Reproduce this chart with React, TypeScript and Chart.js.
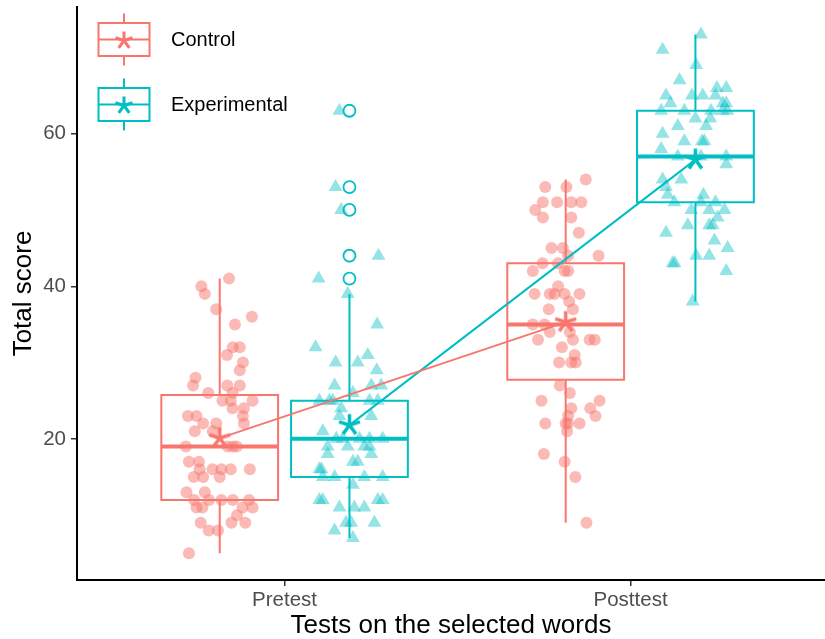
import React, { useEffect, useRef } from 'react';
import { Chart, registerables } from 'chart.js';

Chart.register(...registerables);

// ---------- data ----------
const categories = ['Pretest', 'Posttest'];
const groups = ['Control', 'Experimental'];
const yTickValues = [20, 40, 60];
const xTitle = 'Tests on the selected words';
const yTitle = 'Total score';

// Control, pretest
const ctrlPreScores = [41, 40, 39, 37, 36, 35, 32, 32, 31, 30, 29, 28, 27, 27, 27, 26, 26, 25, 25, 25, 24, 24, 23, 23, 23, 22, 22, 22, 21, 21, 19, 19, 19, 19, 17, 17, 16, 16, 16, 16, 16, 15, 15, 15, 13, 13, 12, 12, 12, 12, 12, 11, 11, 11, 11, 10, 9, 9, 9, 8, 8, 5];
const ctrlPreJitter = [0.027, -0.053, -0.043, -0.010, 0.093, 0.044, 0.038, 0.058, 0.021, 0.067, 0.058, -0.070, -0.077, 0.022, 0.058, -0.033, 0.037, 0.008, 0.032, 0.095, 0.037, 0.070, -0.092, -0.067, 0.067, 0.070, -0.048, -0.010, -0.072, -0.020, -0.098, 0.023, 0.038, 0.049, -0.089, -0.060, -0.058, -0.021, 0.005, 0.032, 0.087, -0.075, -0.048, 0.000, -0.096, -0.043, -0.074, -0.031, 0.005, 0.038, 0.085, -0.067, -0.050, 0.066, 0.095, 0.050, -0.055, 0.034, 0.074, -0.032, -0.005, -0.089];

// Control, posttest
const ctrlPostScores = [54, 53, 53, 51, 51, 51, 51, 50, 49, 49, 47, 45, 45, 44, 44, 43, 43, 42, 42, 42, 40, 39, 39, 39, 39, 39, 38, 37, 37, 35, 35, 34, 34, 33, 33, 33, 33, 32, 31, 30, 30, 30, 27, 26, 25, 25, 24, 24, 23, 23, 22, 22, 22, 22, 21, 18, 17, 15, 9];
const ctrlPostJitter = [0.058, -0.059, 0.002, -0.066, -0.025, 0.016, 0.045, -0.088, -0.066, 0.016, 0.038, -0.041, -0.008, 0.007, 0.095, -0.067, -0.022, -0.095, -0.003, 0.007, -0.022, -0.090, -0.046, -0.032, -0.003, 0.040, 0.010, -0.049, 0.021, -0.095, -0.061, -0.046, 0.012, -0.080, 0.021, 0.069, 0.084, -0.011, 0.026, -0.019, 0.016, 0.029, -0.017, 0.012, -0.070, 0.098, 0.016, 0.071, 0.007, 0.086, -0.059, 0.000, 0.007, 0.040, 0.004, -0.063, -0.003, 0.028, 0.060];

// Experimental, pretest
const expPreScores = [63, 53, 50, 44, 41, 39, 35, 32, 31, 30, 30, 29, 27, 27, 27, 26, 25, 25, 25, 25, 25, 24, 23, 23, 21, 20, 20, 20, 20, 20, 19, 19, 19, 19, 18, 18, 17, 17, 16, 16, 15, 15, 15, 15, 14, 12, 12, 12, 12, 11, 11, 11, 9, 9, 9, 8, 7];
const expPreJitter = [-0.029, -0.040, -0.024, 0.084, -0.089, -0.005, 0.080, -0.098, 0.053, -0.040, 0.024, 0.079, -0.043, 0.063, 0.092, 0.010, -0.087, -0.058, -0.048, 0.058, 0.082, -0.024, -0.029, 0.063, -0.077, -0.038, -0.019, 0.029, 0.058, 0.096, -0.063, -0.005, 0.043, 0.058, -0.063, 0.063, 0.010, 0.024, -0.087, -0.081, -0.077, -0.043, 0.043, 0.096, 0.010, -0.087, -0.077, 0.082, 0.096, -0.029, 0.014, 0.043, -0.010, 0.005, 0.072, -0.043, 0.010];

// Experimental, posttest
const expPostScores = [73, 71, 69, 67, 66, 66, 65, 65, 65, 65, 64, 64, 64, 63, 63, 63, 63, 63, 62, 62, 61, 61, 60, 59, 59, 59, 58, 57, 57, 57, 56, 54, 54, 53, 52, 52, 51, 51, 51, 50, 50, 50, 49, 48, 48, 48, 47, 46, 45, 44, 44, 43, 43, 42, 38];
const expPostJitter = [0.016, -0.095, 0.002, -0.046, 0.062, 0.089, -0.085, -0.010, 0.021, 0.058, -0.072, 0.079, 0.089, -0.099, -0.032, 0.045, 0.079, 0.092, 0.000, 0.043, -0.051, 0.031, -0.095, -0.032, 0.019, 0.026, -0.099, -0.051, 0.016, 0.089, 0.089, -0.095, -0.041, -0.085, -0.080, 0.023, -0.061, 0.016, 0.058, -0.012, 0.040, 0.084, 0.064, -0.022, 0.040, 0.050, -0.085, 0.055, 0.093, 0.002, 0.040, -0.066, -0.060, 0.089, -0.008];

// Box statistics per test (Pretest, Posttest)
const controlLow = [5, 9];
const controlQ1 = [12, 27.75];
const controlMedian = [19, 35];
const controlQ3 = [25.75, 43];
const controlHigh = [41, 54];
const controlMean = [20.1, 35.3];
const controlOutliers: number[][] = [[], []];

const expLow = [7, 38];
const expQ1 = [15, 51];
const expMedian = [20, 57];
const expQ3 = [25, 63];
const expHigh = [39, 73];
const expMean = [21.8, 56.6];
const expOutliers: number[][] = [[63, 53, 50, 44, 41], []];

// ---------- styling ----------
const FONT = '"Liberation Sans", Arial, Helvetica, sans-serif';
const CONTROL_COLOR = '#F8766D';
const EXP_COLOR = '#00BFC4';
const DODGE = 0.1875;
const HALF_BOX = 0.16875;

function makeAsterisk(color: string, spoke: number, lw: number): HTMLCanvasElement {
  const size = Math.ceil(spoke * 2 + lw * 2 + 2);
  const c = document.createElement('canvas');
  c.width = size;
  c.height = size;
  const ctx = c.getContext('2d')!;
  drawAsterisk(ctx, size / 2, size / 2, spoke, color, lw);
  return c;
}

function drawAsterisk(ctx: CanvasRenderingContext2D, x: number, y: number, spoke: number, color: string, lw: number) {
  ctx.save();
  ctx.strokeStyle = color;
  ctx.lineWidth = lw;
  ctx.lineCap = 'butt';
  ctx.beginPath();
  for (let k = 0; k < 5; k++) {
    const a = (k * 2 * Math.PI) / 5;
    ctx.moveTo(x, y);
    ctx.lineTo(x + Math.sin(a) * spoke, y - Math.cos(a) * spoke);
  }
  ctx.stroke();
  ctx.restore();
}

const legendPlugin = {
  id: 'boxLegend',
  afterDraw(chart: any) {
    const ctx: CanvasRenderingContext2D = chart.ctx;
    const entries = [
      { label: groups[0], color: CONTROL_COLOR, cy: 39.5 },
      { label: groups[1], color: EXP_COLOR, cy: 104.5 },
    ];
    const cx = 124;
    entries.forEach((e) => {
      ctx.save();
      ctx.strokeStyle = e.color;
      ctx.lineWidth = 2;
      ctx.beginPath();
      ctx.moveTo(cx, e.cy - 26);
      ctx.lineTo(cx, e.cy - 16.5);
      ctx.moveTo(cx, e.cy + 16.5);
      ctx.lineTo(cx, e.cy + 26);
      ctx.stroke();
      ctx.strokeRect(cx - 25.5, e.cy - 16.5, 51, 33);
      ctx.beginPath();
      ctx.moveTo(cx - 25.5, e.cy);
      ctx.lineTo(cx + 25.5, e.cy);
      ctx.stroke();
      drawAsterisk(ctx, cx, e.cy + 1, 9, e.color, 3);
      ctx.fillStyle = '#000';
      ctx.font = `20px ${FONT}`;
      ctx.textAlign = 'left';
      ctx.textBaseline = 'middle';
      ctx.fillText(e.label, 171, e.cy + 1);
      ctx.restore();
    });
  },
};

function hexA(hex: string, a: number) {
  const r = parseInt(hex.slice(1, 3), 16);
  const g = parseInt(hex.slice(3, 5), 16);
  const b = parseInt(hex.slice(5, 7), 16);
  return `rgba(${r},${g},${b},${a})`;
}

export default function App() {
  const canvasRef = useRef<HTMLCanvasElement | null>(null);

  useEffect(() => {
    if (!canvasRef.current) return;

    const specs = [
      {
        color: CONTROL_COLOR, offset: -DODGE, low: controlLow, q1: controlQ1, med: controlMedian, q3: controlQ3, high: controlHigh,
        mean: controlMean, outliers: controlOutliers, pointStyle: 'circle', pointRadius: 6, alpha: 0.5,
        points: [[ctrlPreScores, ctrlPreJitter], [ctrlPostScores, ctrlPostJitter]],
      },
      {
        color: EXP_COLOR, offset: DODGE, low: expLow, q1: expQ1, med: expMedian, q3: expQ3, high: expHigh,
        mean: expMean, outliers: expOutliers, pointStyle: 'triangle', pointRadius: 8, alpha: 0.42,
        points: [[expPreScores, expPreJitter], [expPostScores, expPostJitter]],
      },
    ];

    const lineBase = { showLine: true, pointRadius: 0, pointHoverRadius: 0, fill: false, borderJoinStyle: 'miter', borderCapStyle: 'butt' };
    const datasets: any[] = [];

    specs.forEach((s) => {
      categories.forEach((_, i) => {
        const c = i + 1 + s.offset;
        // box
        datasets.push({
          ...lineBase, order: 3, borderColor: s.color, borderWidth: 2, borderCapStyle: 'square',
          data: [
            { x: c - HALF_BOX, y: s.q1 }, { x: c + HALF_BOX, y: s.q1 }, { x: c + HALF_BOX, y: s.q3 },
            { x: c - HALF_BOX, y: s.q3 }, { x: c - HALF_BOX, y: s.q1 },
          ].map((p) => ({ x: p.x, y: (p.y as number[])[i] })),
        });
        // median
        datasets.push({
          ...lineBase, order: 3, borderColor: s.color, borderWidth: 4,
          data: [{ x: c - HALF_BOX, y: s.med[i] }, { x: c + HALF_BOX, y: s.med[i] }],
        });
        // whiskers
        datasets.push({
          ...lineBase, order: 3, borderColor: s.color, borderWidth: 2,
          data: [{ x: c, y: s.q3[i] }, { x: c, y: s.high[i] }],
        });
        datasets.push({
          ...lineBase, order: 3, borderColor: s.color, borderWidth: 2,
          data: [{ x: c, y: s.q1[i] }, { x: c, y: s.low[i] }],
        });
        // outliers
        if (s.outliers[i].length) {
          datasets.push({
            order: 3, showLine: false, pointStyle: 'circle', pointRadius: 6, pointBorderWidth: 1.8,
            pointBackgroundColor: 'rgba(0,0,0,0)', pointBorderColor: s.color,
            data: s.outliers[i].map((v) => ({ x: c, y: v })),
          });
        }
        // jittered points
        const [scores, jit] = s.points[i] as [number[], number[]];
        datasets.push({
          order: 2, showLine: false, pointStyle: s.pointStyle, pointRadius: s.pointRadius, pointBorderWidth: 0,
          pointBackgroundColor: hexA(s.color, s.alpha), pointBorderColor: 'rgba(0,0,0,0)',
          data: scores.map((v, k) => ({ x: i + 1 + s.offset + jit[k], y: v })),
        });
      });
      // mean line with asterisks
      datasets.push({
        ...lineBase, order: 1, borderColor: s.color, borderWidth: 2,
        pointStyle: makeAsterisk(s.color, 11, 3.5), pointRadius: 11,
        data: categories.map((_, i) => ({ x: i + 1 + s.offset, y: s.mean[i] })),
      });
    });

    const chart = new Chart(canvasRef.current, {
      type: 'scatter',
      data: { datasets },
      plugins: [legendPlugin],
      options: {
        animation: false,
        responsive: false,
        devicePixelRatio: 1,
        events: [],
        layout: { autoPadding: false, padding: { top: 7, right: 0, bottom: 0, left: 0 } },
        plugins: { legend: { display: false }, tooltip: { enabled: false } },
        scales: {
          x: {
            type: 'linear',
            min: 0.4,
            max: 2.562,
            afterBuildTicks: (scale: any) => { scale.ticks = categories.map((_, i) => ({ value: i + 1 })); },
            afterFit: (scale: any) => { scale.height = 59; scale.paddingLeft = 0; scale.paddingRight = 0; },
            grid: { drawOnChartArea: false, drawTicks: true, tickLength: 6, color: '#333333', lineWidth: 1.5 },
            border: { display: true, color: '#000000', width: 2 },
            ticks: {
              autoSkip: false, maxRotation: 0, padding: 2, color: '#4D4D4D',
              font: { size: 20.5, family: FONT, lineHeight: 1.2 },
              callback: (v: any) => categories[Math.round(Number(v)) - 1] ?? '',
            },
            title: { display: true, text: xTitle, color: '#000000', font: { size: 26, family: FONT, lineHeight: 1 }, padding: { top: 0, bottom: 0 } },
          },
          y: {
            type: 'linear',
            min: 1.5,
            max: 76.6,
            afterBuildTicks: (scale: any) => { scale.ticks = yTickValues.map((v) => ({ value: v })); },
            afterFit: (scale: any) => { scale.width = 77; scale.paddingTop = 0; scale.paddingBottom = 0; },
            grid: { drawOnChartArea: false, drawTicks: true, tickLength: 6, color: '#333333', lineWidth: 1.5 },
            border: { display: true, color: '#000000', width: 2 },
            ticks: { padding: 5, color: '#4D4D4D', font: { size: 20.5, family: FONT }, callback: (v: any) => String(v) },
            title: { display: true, text: yTitle, color: '#000000', font: { size: 26, family: FONT, lineHeight: 1 }, padding: { top: 11, bottom: 0 } },
          },
        },
      } as any,
    });

    return () => chart.destroy();
  }, []);

  return (
    <div style={{ position: 'fixed', left: 0, top: 0, width: 825, height: 639, background: '#fff' }}>
      <canvas ref={canvasRef} width={825} height={639} style={{ display: 'block', width: 825, height: 639 }} />
    </div>
  );
}
